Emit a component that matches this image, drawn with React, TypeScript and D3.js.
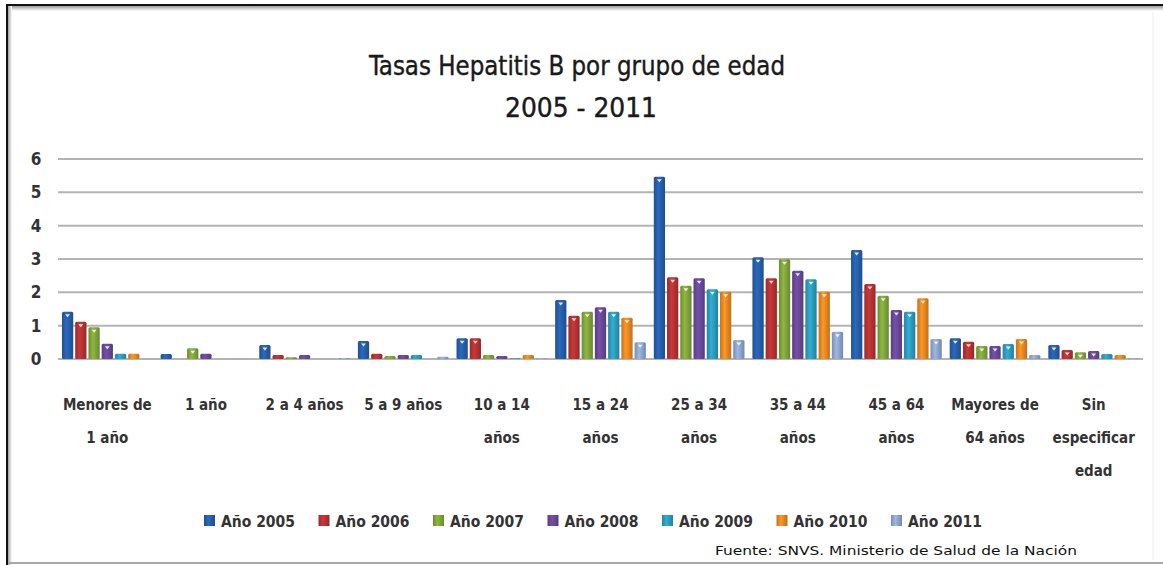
import React from 'react';
import * as d3 from 'd3';

// age groups (x categories) and how their labels wrap
const categories = [
  'Menores de 1 año', '1 año', '2 a 4 años', '5 a 9 años', '10 a 14 años',
  '15 a 24 años', '25 a 34 años', '35 a 44 años', '45 a 64 años',
  'Mayores de 64 años', 'Sin especificar edad'
];
const categoryLines = [
  ['Menores de', '1 año'], ['1 año'], ['2 a 4 años'], ['5 a 9 años'], ['10 a 14', 'años'],
  ['15 a 24', 'años'], ['25 a 34', 'años'], ['35 a 44', 'años'], ['45 a 64', 'años'],
  ['Mayores de', '64 años'], ['Sin', 'especificar', 'edad']
];

const series = ['Año 2005', 'Año 2006', 'Año 2007', 'Año 2008', 'Año 2009', 'Año 2010', 'Año 2011'];
const seriesColors = ['#2660ad', '#b93333', '#82a83c', '#6b4a9b', '#2b9fc2', '#eb8a21', '#90a8d2'];

const y2005 = [1.42, 0.15, 0.42, 0.54, 0.62, 1.77, 5.47, 3.05, 3.27, 0.62, 0.42];
const y2006 = [1.12, 0, 0.12, 0.16, 0.62, 1.30, 2.45, 2.42, 2.25, 0.52, 0.27];
const y2007 = [0.95, 0.32, 0.05, 0.09, 0.12, 1.42, 2.20, 2.99, 1.90, 0.39, 0.20];
const y2008 = [0.46, 0.16, 0.12, 0.12, 0.09, 1.55, 2.42, 2.65, 1.47, 0.39, 0.24];
const y2009 = [0.16, 0, 0, 0.12, 0.02, 1.42, 2.09, 2.39, 1.42, 0.45, 0.15];
const y2010 = [0.16, 0, 0, 0, 0.12, 1.24, 2.02, 2.02, 1.82, 0.60, 0.12];
const y2011 = [0, 0, 0.03, 0.07, 0.02, 0.50, 0.57, 0.82, 0.60, 0.12, 0.02];
const seriesValues = [y2005, y2006, y2007, y2008, y2009, y2010, y2011];

const yTicks = [0, 1, 2, 3, 4, 5, 6];

const W = 1163;
const H = 565;
const FONT = "'Liberation Sans Narrow', 'DejaVu Sans Condensed', 'Open Sans', sans-serif";

const App: React.FC = () => {
  const x = d3.scaleBand<string>().domain(categories).range([58, 1143]).paddingInner(0).paddingOuter(0);
  const xs = d3.scaleBand<string>().domain(series).range([0, x.bandwidth()]).paddingInner(0.15).paddingOuter(0.3);
  const y = d3.scaleLinear().domain([0, 6]).range([359, 159]);

  const shade = (c: string, k: number) => {
    const col = d3.color(c)!;
    return k > 0 ? col.brighter(k).formatHex() : col.darker(-k).formatHex();
  };

  return (
    <div style={{ position: 'absolute', left: 0, top: 0 }}>
      <svg width={W} height={H} style={{ display: 'block', background: '#fff' }}>
        <defs>
          {seriesColors.map((c, i) => (
            <linearGradient key={i} id={`g${i}`} x1="0" x2="1" y1="0" y2="0">
              <stop offset="0%" stopColor={shade(c, -0.5)} />
              <stop offset="40%" stopColor={shade(c, 0.25)} />
              <stop offset="60%" stopColor={c} />
              <stop offset="100%" stopColor={shade(c, -0.6)} />
            </linearGradient>
          ))}
          <linearGradient id="topShade" x1="0" x2="0" y1="0" y2="1">
            <stop offset="0%" stopColor="#9a9a9a" />
            <stop offset="100%" stopColor="#ffffff" />
          </linearGradient>
          <linearGradient id="leftShade" x1="0" x2="1" y1="0" y2="0">
            <stop offset="0%" stopColor="#a0a0a0" />
            <stop offset="100%" stopColor="#ffffff" />
          </linearGradient>
        </defs>

        {/* frame */}
        <rect x={8} y={6} width={W - 8} height={5} fill="url(#topShade)" />
        <rect x={8} y={6} width={4} height={H - 6} fill="url(#leftShade)" />
        <line x1={6} x2={W} y1={5} y2={5} stroke="#111" strokeWidth={2} />
        <line x1={7} x2={7} y1={5} y2={H} stroke="#111" strokeWidth={2} />
        <line x1={8} x2={W} y1={563} y2={563} stroke="#a8a8a8" strokeWidth={2} />
        <line x1={1153} x2={1153} y1={12} y2={560} stroke="#eeeeee" strokeWidth={1} />

        {/* title */}
        <text x={577} y={75} textAnchor="middle" fontFamily={FONT} fontSize={27} fill="#1a1a1a"
          stroke="#1a1a1a" strokeWidth={0.4} textLength={416} lengthAdjust="spacingAndGlyphs">
          Tasas Hepatitis B por grupo de edad
        </text>
        <text x={581} y={117} textAnchor="middle" fontFamily={FONT} fontSize={27} fill="#1a1a1a"
          stroke="#1a1a1a" strokeWidth={0.4} textLength={152} lengthAdjust="spacingAndGlyphs">2005 - 2011</text>

        {/* grid */}
        {yTicks.map(t => (
          <g key={t}>
            <line x1={58} x2={1143} y1={y(t)} y2={y(t)} stroke="#b4b4b4" strokeWidth={2} />
            <text x={36} y={y(t)} dy="0.35em" textAnchor="middle" fontFamily={FONT} fontWeight="bold"
              fontSize={17} fill="#333">{t}</text>
          </g>
        ))}

        {/* bars */}
        {categories.map((cat, ci) => (
          <g key={cat} transform={`translate(${x(cat)},0)`}>
            {series.map((s, si) => {
              const v = seriesValues[si][ci];
              if (!v) return null;
              const bx = xs(s)!;
              const bw = xs.bandwidth();
              const top = y(v);
              const h = y(0) - top;
              return (
                <g key={s}>
                  <rect x={bx} y={top} width={bw} height={h} rx={1.5} fill={`url(#g${si})`} />
                  {h > 6 && (
                    <path d={`M${bx + bw / 2 - 2.5},${top + 2.5}L${bx + bw / 2 + 2.5},${top + 2.5}L${bx + bw / 2},${top + 5.5}Z`}
                      fill="#ffffff" opacity={0.85} />
                  )}
                </g>
              );
            })}
          </g>
        ))}

        {/* category labels */}
        {categories.map((cat, ci) => (
          <text key={cat} x={x(cat)! + x.bandwidth() / 2} y={405} textAnchor="middle" fontFamily={FONT}
            fontWeight="bold" fontSize={15} fill="#333">
            {categoryLines[ci].map((l, li) => (
              <tspan key={li} x={x(cat)! + x.bandwidth() / 2} dy={li === 0 ? '0.35em' : 33}>{l}</tspan>
            ))}
          </text>
        ))}

        {/* legend */}
        {series.map((s, si) => {
          const lx = 204 + si * 114.5;
          return (
            <g key={s}>
              <rect x={lx} y={515} width={11} height={11} fill={`url(#g${si})`} />
              <text x={lx + 17} y={521} dy="0.35em" fontFamily={FONT} fontWeight="bold" fontSize={16}
                fill="#333" textLength={74} lengthAdjust="spacingAndGlyphs">{s}</text>
            </g>
          );
        })}

        {/* source */}
        <text x={715} y={551} dy="0.35em" fontFamily="'DejaVu Sans', sans-serif" fontSize={12} fill="#111"
          textLength={362} lengthAdjust="spacingAndGlyphs">Fuente: SNVS. Ministerio de Salud de la Nación</text>
      </svg>
    </div>
  );
};

export default App;
